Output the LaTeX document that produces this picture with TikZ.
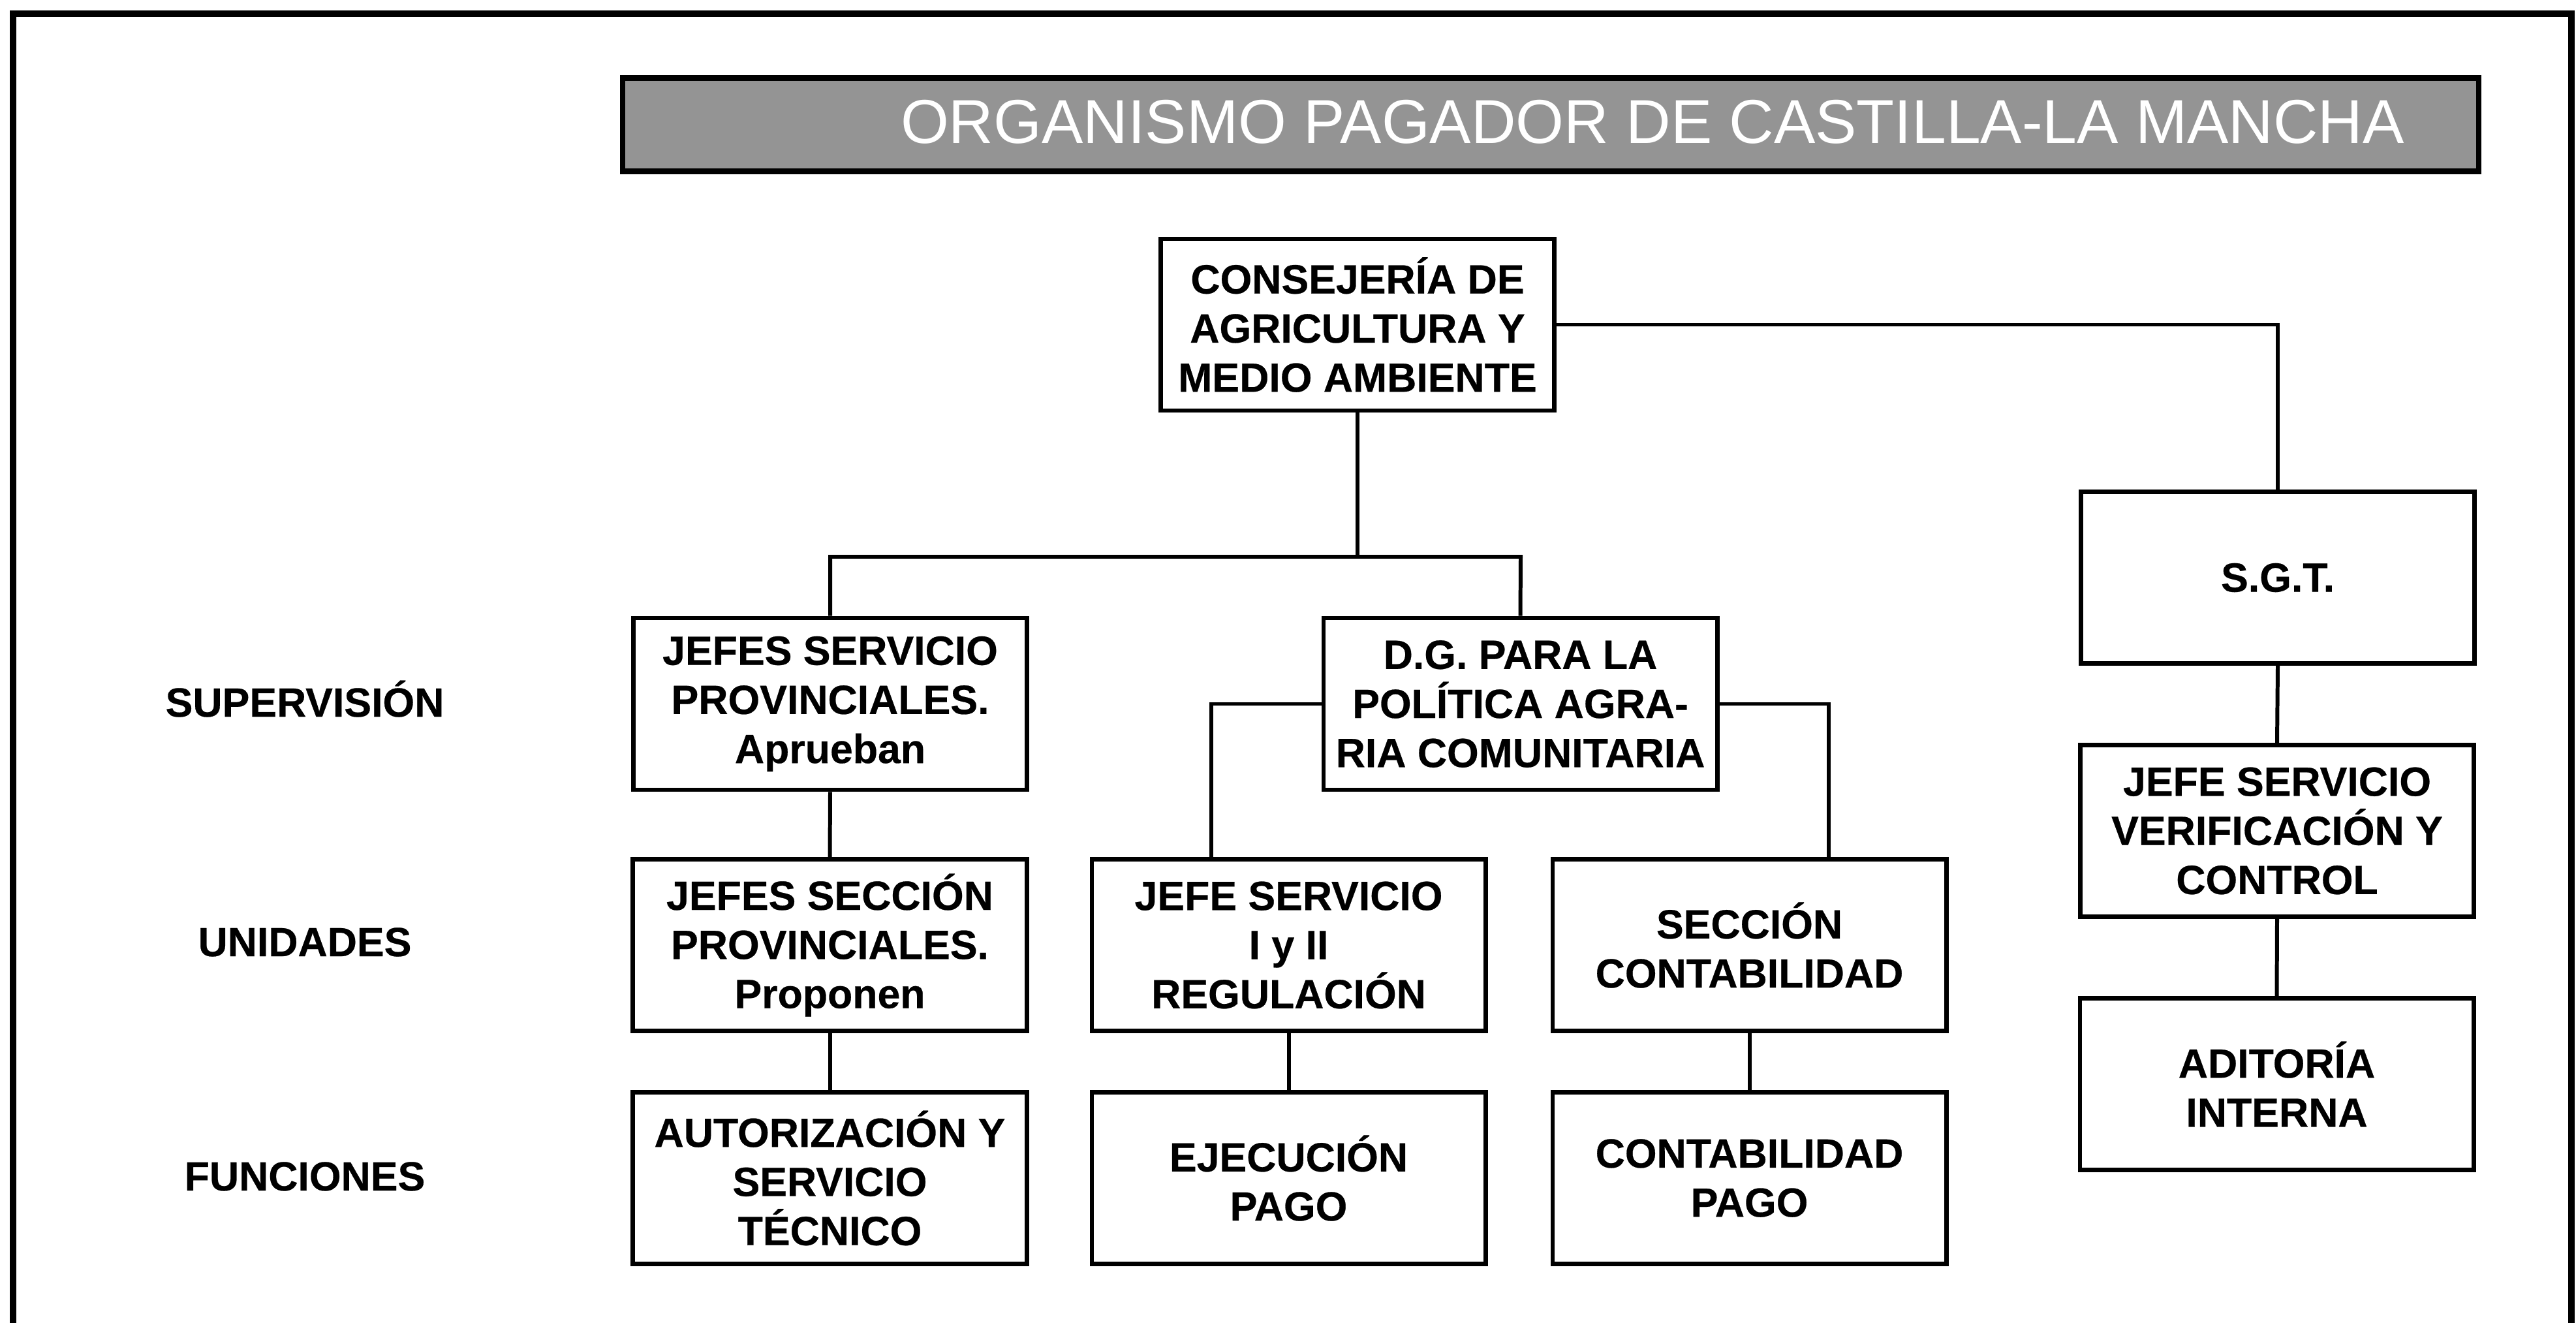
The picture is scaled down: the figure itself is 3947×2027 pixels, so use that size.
\documentclass[tikz,border=0pt]{standalone}
\usepackage{fontspec}
\setmainfont{Liberation Sans}
\newfontfamily\heavyfont{Liberation Sans Bold}[FakeBold=0.4]
\begin{document}
\begin{tikzpicture}[x=0.01cm,y=-0.01cm,
  box/.style={draw, line width=1.9pt, fill=white, align=center, inner sep=0pt,
    minimum width=6.03cm, minimum height=2.63cm,
    font=\heavyfont\fontsize{17.8}{21.4}\selectfont},
  lbl/.style={anchor=base, inner sep=0pt, font=\heavyfont\fontsize{17.8}{21.4}\selectfont},
  conn/.style={line width=1.7pt},
  banner/.style={draw, line width=2.4pt, fill=black!42, inner sep=0pt,
    minimum width=28.42cm, minimum height=1.43cm},
  bannertext/.style={text=white, inner sep=0pt, font=\fontsize{27}{30}\selectfont}
]
\useasboundingbox (0,0) rectangle (3947,2027);
% outer frame (bottom edge lies outside the picture)
\draw[line width=2.6pt] (20,2120) -- (20,21) -- (3940,21) -- (3940,2120);

% title banner
\node[banner] (title) at (2376,191) {};
\node[bannertext] (titletext) at (2532,187) {ORGANISMO PAGADOR DE CASTILLA-LA MANCHA};

% boxes
\node[box] (cons) at (2080,497.5) {CONSEJERÍA DE\\AGRICULTURA Y\\MEDIO AMBIENTE};
\node[box] (jsp) at (1272,1078.5) {JEFES SERVICIO\\PROVINCIALES.\\Aprueban};
\node[box] (dg) at (2329.5,1078.5) {D.G. PARA LA\\POLÍTICA AGRA-\\RIA COMUNITARIA};
\node[box] (sgt) at (3490,885) {S.G.T.};
\node[box] (jsv) at (3489,1273) {JEFE SERVICIO\\VERIFICACIÓN Y\\CONTROL};
\node[box] (adit) at (3488.5,1661) {ADITORÍA\\INTERNA};
\node[box] (jsec) at (1271.5,1448) {JEFES SECCIÓN\\PROVINCIALES.\\Proponen};
\node[box] (jsr) at (1974.5,1448) {JEFE SERVICIO\\I y II\\REGULACIÓN};
\node[box] (scont) at (2680.5,1448) {SECCIÓN\\CONTABILIDAD};
\node[box] (aut) at (1271.5,1805) {AUTORIZACIÓN Y\\SERVICIO\\TÉCNICO};
\node[box] (ejec) at (1974.5,1805) {EJECUCIÓN\\PAGO};
\node[box] (cpago) at (2680.5,1805) {CONTABILIDAD\\PAGO};

% row labels
\node[lbl] (sup) at (467,1098) {SUPERVISIÓN};
\node[lbl] (uni) at (467,1465) {UNIDADES};
\node[lbl] (fun) at (467,1824) {FUNCIONES};

% connectors
\coordinate (h1) at (1272,853);
\coordinate (h2) at (2330,853);
\coordinate (jl) at (1856,1316);
\coordinate (jr) at (2802,1316);
\draw[conn] (cons.south) -- (cons.south |- h1);
\draw[conn] (jsp.north) -- (h1) -- (h2) -- (dg.north);
\draw[conn] (cons.east) -| (sgt.north);
\draw[conn] (dg.west) -| (jl);
\draw[conn] (dg.east) -| (jr);
\draw[conn] (jsp.south) -- (jsec.north);
\draw[conn] (jsec.south) -- (aut.north);
\draw[conn] (jsr.south) -- (ejec.north);
\draw[conn] (scont.south) -- (cpago.north);
\draw[conn] (sgt.south) -- (jsv.north);
\draw[conn] (jsv.south) -- (adit.north);
\end{tikzpicture}
\end{document}
